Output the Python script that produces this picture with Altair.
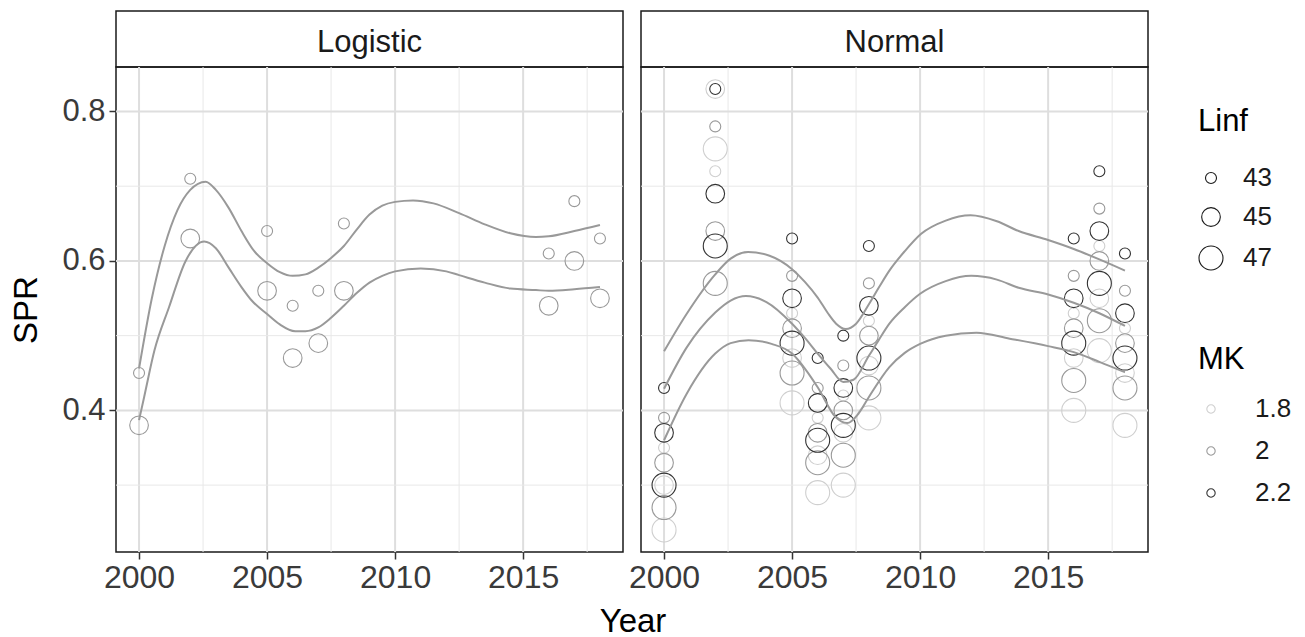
import altair as alt
import pandas as pd

# ---------------- data ----------------
years = [2000, 2002, 2005, 2006, 2007, 2008, 2016, 2017, 2018]

# Logistic selectivity (MK = 2)
log_linf43 = [0.45, 0.71, 0.64, 0.54, 0.56, 0.65, 0.61, 0.68, 0.63]
log_linf45 = [0.38, 0.63, 0.56, 0.47, 0.49, 0.56, 0.54, 0.60, 0.55]

# Normal selectivity, by Linf and MK
norm_43_22 = [0.43, 0.83, 0.63, 0.47, 0.50, 0.62, 0.63, 0.72, 0.61]
norm_43_20 = [0.39, 0.78, 0.58, 0.43, 0.46, 0.57, 0.58, 0.67, 0.56]
norm_43_18 = [0.35, 0.72, 0.53, 0.39, 0.42, 0.52, 0.53, 0.62, 0.51]
norm_45_22 = [0.37, 0.69, 0.55, 0.41, 0.43, 0.54, 0.55, 0.64, 0.53]
norm_45_20 = [0.33, 0.64, 0.51, 0.37, 0.40, 0.50, 0.51, 0.60, 0.49]
norm_45_18 = [0.30, 0.83, 0.47, 0.34, 0.37, 0.46, 0.47, 0.55, 0.45]
norm_47_22 = [0.30, 0.62, 0.49, 0.36, 0.38, 0.47, 0.49, 0.57, 0.47]
norm_47_20 = [0.27, 0.57, 0.45, 0.33, 0.34, 0.43, 0.44, 0.52, 0.43]
norm_47_18 = [0.24, 0.75, 0.41, 0.29, 0.30, 0.39, 0.40, 0.48, 0.38]

# smooth curves
log_up_x = [2000, 2000.5, 2001, 2001.5, 2002, 2002.6, 2003, 2003.5, 2004, 2004.5, 2005,
            2005.5, 2006, 2006.5, 2007, 2007.5, 2008, 2008.5, 2009, 2009.5, 2010, 2010.7,
            2011.5, 2012.5, 2013.5, 2014.5, 2015.5, 2016, 2017, 2018]
log_up_y = [0.456, 0.55, 0.62, 0.668, 0.695, 0.706, 0.695, 0.671, 0.640, 0.613, 0.597,
            0.585, 0.580, 0.582, 0.591, 0.604, 0.620, 0.642, 0.662, 0.674, 0.679, 0.681,
            0.677, 0.664, 0.649, 0.637, 0.632, 0.633, 0.640, 0.648]
log_lo_x = [2000, 2000.2, 2000.6, 2001.17, 2001.82, 2002.54, 2003, 2003.5, 2004, 2004.4,
            2005, 2005.5, 2006.1, 2006.5, 2007, 2007.5, 2008, 2008.5, 2009, 2009.5, 2010,
            2011, 2012, 2012.5, 2013.5, 2014.5, 2015.5, 2016, 2017, 2018]
log_lo_y = [0.387, 0.418, 0.480, 0.538, 0.600, 0.626, 0.617, 0.591, 0.565, 0.547,
            0.529, 0.515, 0.506, 0.506, 0.511, 0.524, 0.540, 0.557, 0.571, 0.580, 0.586,
            0.590, 0.586, 0.581, 0.571, 0.563, 0.561, 0.560, 0.562, 0.565]
norm_top_x = [2000, 2000.88, 2002, 2002.6, 2003.28, 2004.12, 2005, 2005.5, 2006, 2006.4,
              2006.72, 2007.1, 2007.5, 2008, 2008.4, 2008.8, 2009.4, 2010.03, 2011, 2011.97,
              2013, 2013.85, 2015, 2016, 2017, 2018]
norm_top_y = [0.479, 0.529, 0.582, 0.603, 0.612, 0.607, 0.589, 0.572, 0.551, 0.530,
              0.516, 0.509, 0.516, 0.542, 0.565, 0.587, 0.613, 0.636, 0.654, 0.661,
              0.653, 0.640, 0.628, 0.616, 0.602, 0.587]
norm_mid_x = [2000, 2000.88, 2002, 2002.6, 2003.2, 2004, 2005, 2005.5, 2006, 2006.5, 2007,
              2007.4, 2008, 2008.4, 2008.8, 2009.4, 2010, 2011, 2012, 2013, 2013.85, 2015,
              2016, 2017, 2018]
norm_mid_y = [0.429, 0.484, 0.531, 0.547, 0.553, 0.545, 0.516, 0.497, 0.476, 0.456, 0.438,
              0.441, 0.473, 0.495, 0.516, 0.538, 0.556, 0.573, 0.580, 0.575, 0.564, 0.555,
              0.544, 0.530, 0.513]
norm_bot_x = [2000, 2000.88, 2002, 2002.6, 2003.3, 2004.2, 2005, 2005.5, 2006, 2006.7,
              2007.15, 2007.6, 2008, 2008.8, 2009.4, 2010, 2011, 2012.2, 2013.5, 2015,
              2016, 2017, 2018]
norm_bot_y = [0.360, 0.422, 0.476, 0.490, 0.494, 0.489, 0.476, 0.456, 0.431, 0.391,
              0.383, 0.396, 0.418, 0.458, 0.477, 0.489, 0.500, 0.504, 0.496, 0.486,
              0.478, 0.465, 0.451]

x_major = [2000, 2005, 2010, 2015]
x_minor = [2002.5, 2007.5, 2012.5, 2017.5]
y_major = [0.4, 0.6, 0.8]
y_minor = [0.3, 0.5, 0.7]

panels = ["Logistic", "Normal"]
linf_levels = [43, 45, 47]
mk_levels = [1.8, 2.0, 2.2]
mk_colors = ["#cfcfcf", "#999999", "#333333"]

# ---------------- tables ----------------
rows = []
for yr, v in zip(years, log_linf43):
    rows.append(dict(model="Logistic", Year=yr, SPR=v, Linf=43, MK=2.0))
for yr, v in zip(years, log_linf45):
    rows.append(dict(model="Logistic", Year=yr, SPR=v, Linf=45, MK=2.0))
normal_sets = [
    (43, 1.8, norm_43_18), (45, 1.8, norm_45_18), (47, 1.8, norm_47_18),
    (43, 2.0, norm_43_20), (45, 2.0, norm_45_20), (47, 2.0, norm_47_20),
    (43, 2.2, norm_43_22), (45, 2.2, norm_45_22), (47, 2.2, norm_47_22),
]
for linf, mk, vals in normal_sets:
    for yr, v in zip(years, vals):
        rows.append(dict(model="Normal", Year=yr, SPR=v, Linf=linf, MK=mk))
pts_df = pd.DataFrame(rows)
pts_df["ord"] = range(len(pts_df))

lrows = []
for model, grp, xs, ys in [("Logistic", "a", log_up_x, log_up_y),
                           ("Logistic", "b", log_lo_x, log_lo_y),
                           ("Normal", "a", norm_top_x, norm_top_y),
                           ("Normal", "b", norm_mid_x, norm_mid_y),
                           ("Normal", "c", norm_bot_x, norm_bot_y)]:
    for x, y in zip(xs, ys):
        lrows.append(dict(model=model, grp=grp, Year=x, SPR=y))
line_df = pd.DataFrame(lrows)

gx_major = pd.DataFrame({"Year": x_major})
gx_minor = pd.DataFrame({"Year": x_minor})
gy_major = pd.DataFrame({"SPR": y_major})
gy_minor = pd.DataFrame({"SPR": y_minor})

# ---------------- layout ----------------
W, H, STRIP_H = 507, 485, 56
X_DOM = [1999.1, 2018.9]
Y_DOM = [0.2105, 0.8595]
FONT = "Liberation Sans"

x_axis = alt.Axis(values=x_major, format="d", grid=False, domain=False, ticks=True,
                  tickSize=7, tickWidth=1.5, tickColor="#333333", labelFontSize=32,
                  labelColor="#3a3a3a", labelPadding=3, title=None, labelFont=FONT,
                  labelFlush=False)
y_axis = alt.Axis(values=y_major, format=".1f", grid=False, domain=False, ticks=True,
                  tickSize=7, tickWidth=1.5, tickColor="#333333", labelFontSize=31,
                  labelColor="#3a3a3a", labelPadding=4, title="SPR", titleFontSize=33,
                  titleFontWeight="normal", titleColor="black", titlePadding=18,
                  labelFont=FONT, titleFont=FONT)


def xenc():
    return alt.X("Year:Q", scale=alt.Scale(domain=X_DOM, nice=False, zero=False),
                 axis=x_axis)


def yenc(show):
    return alt.Y("SPR:Q", scale=alt.Scale(domain=Y_DOM, nice=False, zero=False),
                 axis=y_axis if show else None)


def plot_panel(model, show_y):
    g1 = alt.Chart(gx_minor).mark_rule(color="#e8e8e8", strokeWidth=1).encode(x=xenc())
    g2 = alt.Chart(gx_major).mark_rule(color="#dedede", strokeWidth=2).encode(x=xenc())
    g3 = alt.Chart(gy_minor).mark_rule(color="#e8e8e8", strokeWidth=1).encode(y=yenc(show_y))
    g4 = alt.Chart(gy_major).mark_rule(color="#dedede", strokeWidth=2).encode(y=yenc(show_y))
    pts = alt.Chart(pts_df).transform_filter(alt.datum.model == model).mark_point(
        filled=False, strokeWidth=1.1, opacity=1, shape="circle"
    ).encode(
        x=xenc(),
        y=yenc(show_y),
        size=alt.Size("Linf:O", scale=alt.Scale(domain=linf_levels, range=[121, 576, 1024]),
                      legend=alt.Legend(title="Linf", orient="none", legendX=1082, legendY=96,
                                        symbolStrokeColor="#1a1a1a", symbolStrokeWidth=1.1,
                                        symbolType="circle", rowPadding=13, labelOffset=19,
                                        titlePadding=27)),
        color=alt.Color("MK:O", scale=alt.Scale(domain=mk_levels, range=mk_colors),
                        legend=alt.Legend(title="MK", orient="none", legendX=1082, legendY=334,
                                          symbolSize=70, symbolStrokeWidth=1.1,
                                          symbolType="circle", rowPadding=16, labelOffset=31,
                                          titlePadding=20)),
        order=alt.Order("ord:Q"),
    )
    lines = alt.Chart(line_df).transform_filter(alt.datum.model == model).mark_line(
        color="#999999", strokeWidth=2, interpolate="monotone"
    ).encode(x=xenc(), y=yenc(show_y), detail="grp:N")
    return alt.layer(g1, g2, g3, g4, pts, lines).properties(width=W, height=H)


def strip_panel(model):
    return alt.Chart(pd.DataFrame({"label": [model]})).mark_text(
        fontSize=31, color="#1a1a1a", font=FONT, align="center", baseline="middle"
    ).encode(text="label:N", x=alt.value(W / 2), y=alt.value(STRIP_H / 2 + 4)).properties(
        width=W, height=STRIP_H)


chart = alt.concat(
    strip_panel("Logistic"), strip_panel("Normal"),
    plot_panel("Logistic", True), plot_panel("Normal", False),
    columns=2, spacing={"row": 0, "column": 18}, bounds="flush",
).resolve_scale(color="shared", size="shared").properties(
    title=alt.TitleParams("Year", orient="bottom", anchor="middle", frame="group",
                          fontSize=33, fontWeight="normal", font=FONT, color="black",
                          offset=12, dx=517),
    padding={"left": 10, "top": 10, "right": 5, "bottom": 0},
    background="white",
).configure_view(stroke="#1a1a1a", strokeWidth=1.5).configure_legend(
    titleFontSize=31, labelFontSize=26, titleFont=FONT, labelFont=FONT,
    titleFontWeight="normal", labelColor="#1a1a1a", titleColor="black"
)

chart.save("out.html", embed_options={"renderer": "svg", "actions": False})
